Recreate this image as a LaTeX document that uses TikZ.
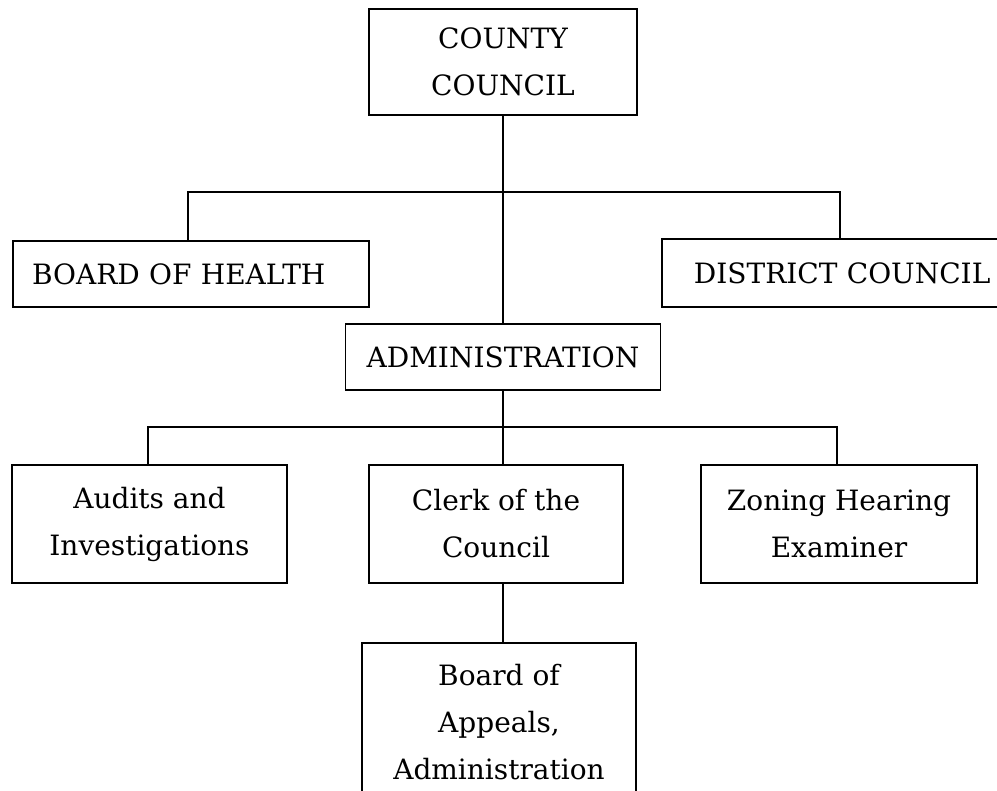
\documentclass[tikz,border=0pt]{standalone}
\usepackage{fontspec}
\setmainfont{DejaVu Serif}
\begin{document}
\begin{tikzpicture}[x=1pt,y=1pt,
  orgbox/.style={draw, line width=1.8pt, inner sep=0pt, align=center,
    font=\fontsize{28}{47}\selectfont},
  link/.style={draw, line width=1.8pt}]
\useasboundingbox (0,0) rectangle (997,-791);
% boxes
\node[orgbox, minimum width=268pt, minimum height=106pt] (cc) at (503,-62) {COUNTY\\COUNCIL};
\node[orgbox, minimum height=66pt, text width=318pt, inner xsep=19pt, align=left] (boh) at (191,-274) {BOARD OF HEALTH};
\node[orgbox, anchor=west, minimum height=68pt, text width=320pt, inner xsep=32pt, align=left] (dc) at (661,-273) {DISTRICT COUNCIL};
\node[orgbox, minimum width=315pt, minimum height=66pt] (adm) at (503,-357) {ADMINISTRATION};
\node[orgbox, minimum width=275pt, minimum height=118pt] (aud) at (149.5,-524) {Audits and\\Investigations};
\node[orgbox, minimum width=254pt, minimum height=118pt] (clk) at (496,-524) {Clerk of the\\Council};
\node[orgbox, minimum width=276pt, minimum height=118pt] (zon) at (839,-524) {Zoning Hearing\\Examiner};
\node[orgbox, anchor=north, minimum width=274pt, minimum height=158pt] (boa) at (499,-642) {Board of\\Appeals,\\Administration};
% junction points
\coordinate (b1) at (188,-192);
\coordinate (b2) at (840,-192);
\coordinate (c1) at (148,-427);
\coordinate (c2) at (837,-427);
% connectors
\draw[link] (cc.south) -- (adm.north);
\draw[link] (b1 |- boh.north) -- (b1) -- (b2) -- (b2 |- dc.north);
\draw[link] (adm.south) -- (adm.south |- clk.north);
\draw[link] (c1 |- aud.north) -- (c1) -- (c2) -- (c2 |- zon.north);
\draw[link] (adm.south |- clk.south) -- (adm.south |- boa.north);
\end{tikzpicture}
\end{document}
